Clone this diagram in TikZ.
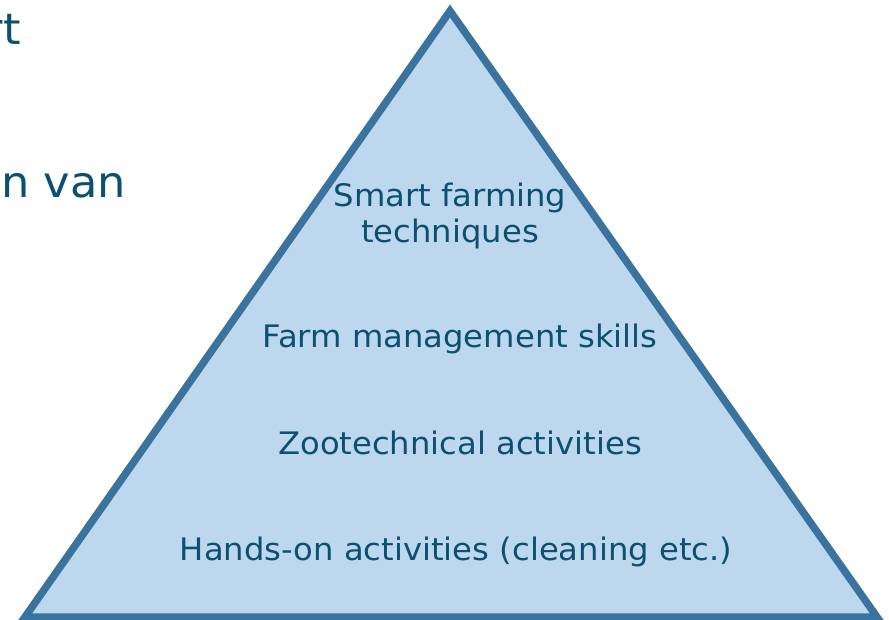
\documentclass[tikz,border=0pt]{standalone}
\usepackage{fontspec}
\setmainfont{DejaVu Sans}[FakeStretch=1.04]
\usetikzlibrary{positioning}

\definecolor{textblue}{RGB}{12,80,112}
\definecolor{fillblue}{RGB}{189,215,238}
\definecolor{edgeblue}{RGB}{58,116,158}

\begin{document}
\begin{tikzpicture}[x=1pt,y=-1pt,node distance=106pt,text=textblue,font=\fontsize{31}{36}\selectfont]

    \tikzstyle{level}=[inner sep=0pt,text height=0.75em,text depth=0.25em,align=center]
    \tikzstyle{slide}=[inner sep=0pt,anchor=base east,font=\fontsize{43}{52}\selectfont]

    \useasboundingbox (0,0) rectangle (889,620);
    \clip (0,0) rectangle (889,620);

    \coordinate (top)   at (450,11);
    \coordinate (left)  at (25,617);
    \coordinate (right) at (877,617);

    \draw[line width=7.5pt,draw=edgeblue,fill=fillblue] (top) -- (left) -- (right) -- cycle;

    \node[slide] (rt)  at (21,45)   {rt};
    \node[slide] (van) at (126,198) {n van};

    \node[level,anchor=base] (smart) at (450,243) {Smart farming\\techniques};
    \node[level,anchor=base] (farm)  at (460,348) {Farm management skills};
    \node[level,below of=farm]  (zoo)   {Zootechnical activities};
    \node[level,below of=zoo,xshift=-4pt]   (hands) {Hands-on activities (cleaning etc.)};

\end{tikzpicture}
\end{document}
